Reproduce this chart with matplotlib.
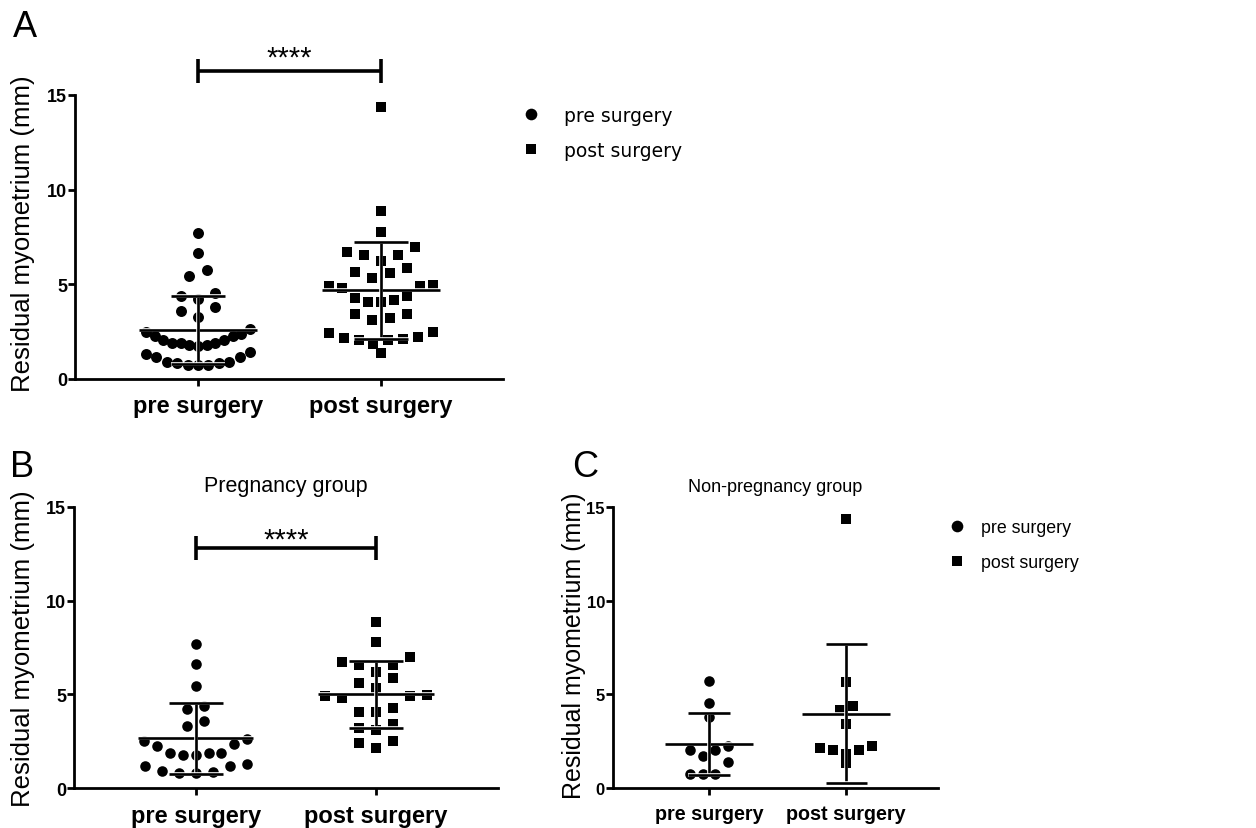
import numpy as np
import matplotlib
matplotlib.use('Agg')
import matplotlib.pyplot as plt
from matplotlib import font_manager
from matplotlib.lines import Line2D
import matplotlib.patheffects as pe

# ---------------- data ----------------
categories = ['pre surgery', 'post surgery']
preg_pre = [7.69, 6.63, 5.44, 4.37, 4.23, 3.30, 3.61, 2.50, 2.63, 2.27, 2.36,
            1.88, 1.79, 1.79, 1.88, 1.88, 1.30, 1.17, 1.17, 0.89, 0.82, 0.82, 0.91]
preg_post = [8.88, 7.78, 6.98, 6.57, 6.57, 6.71, 6.22, 5.88, 5.61, 5.33, 4.90,
             4.99, 4.80, 4.90, 4.28, 4.09, 4.09, 3.43, 3.21, 3.13, 2.50, 2.42, 2.13]
nonpreg_pre = [5.74, 4.53, 3.82, 2.27, 2.04, 1.74, 2.04, 1.42, 0.76, 0.76, 0.76]
nonpreg_post = [14.35, 5.65, 4.19, 4.37, 3.43, 2.17, 2.06, 2.24, 2.06, 1.83, 1.35]
all_pre = preg_pre + nonpreg_pre
all_post = preg_post + nonpreg_post

panel_letters = ['A', 'B', 'C']
titles = ['', 'Pregnancy group', 'Non-pregnancy group']
ylabel = 'Residual myometrium (mm)'
yticks = [0, 5, 10, 15]
sig_label = '****'

# ---------------- fonts ----------------
def has_font(name):
    try:
        font_manager.findfont(font_manager.FontProperties(family=name),
                              fallback_to_default=False)
        return True
    except Exception:
        return False

REG = ['Liberation Sans', 'DejaVu Sans']
plt.rcParams['font.family'] = REG
if has_font('Liberation Sans Narrow'):
    NARROW = ['Liberation Sans Narrow', 'Liberation Sans', 'DejaVu Sans']
    sizes_c = dict(ytick=13, xtick=17, title=15.5, legend=14.5)
else:
    NARROW = REG
    sizes_c = dict(ytick=12, xtick=14.2, title=13, legend=12.8)
sizes_ab = dict(ytick=13, xtick=17, title=15.5)

# ---------------- helpers ----------------
def swarm_offsets(values, origin=0.45, binw=1.15, step=0.094, maxw=0.57):
    v = np.asarray(values, dtype=float)
    off = np.zeros(len(v))
    bins = np.floor((v - origin) / binw).astype(int)
    for b in np.unique(bins):
        idx = np.where(bins == b)[0]
        idx = idx[np.argsort(v[idx], kind='stable')]
        n = len(idx)
        sp = step if n < 2 else min(step, maxw / (n - 1))
        if n % 2:
            slots = [0] + [s for k in range(1, n // 2 + 1) for s in (-k, k)]
        else:
            slots = [s for k in range(n // 2) for s in (-(k + 0.5), k + 0.5)]
        for i, s in zip(idx, slots):
            off[i] = s * sp
    return off

W, H = 1256, 829
fig = plt.figure(figsize=(W / 100, H / 100), dpi=100)

def px_axes(l, r, t, b):
    return fig.add_axes([l / W, 1 - b / H, (r - l) / W, (b - t) / H])

axA = px_axes(75, 503, 96, 380)
axB = px_axes(74, 498, 507.7, 789.3)
axC = px_axes(613, 938, 507.7, 789.3)

white_edge = [pe.Stroke(linewidth=2.6, foreground='white'), pe.Normal()]

def draw_panel(ax, pre, post, xlim, ms_o, ms_s, fam, sz, title='',
               ylab_x=-0.098, ylab_y=0.5, ylab_size=18.5):
    for i, (vals, mk, ms) in enumerate([(pre, 'o', ms_o), (post, 's', ms_s)]):
        x = i + swarm_offsets(vals)
        ax.plot(x, vals, linestyle='none', marker=mk, ms=ms, color='black',
                mec='black', mew=0, zorder=3, clip_on=False)
        m = np.mean(vals)
        sd = np.std(vals, ddof=1)
        kw = dict(color='black', lw=1.9, zorder=4, clip_on=False,
                  path_effects=white_edge, solid_capstyle='butt')
        ax.plot([i - 0.32, i + 0.32], [m, m], **kw)
        ax.plot([i, i], [m - sd, m + sd], **kw)
        ax.plot([i - 0.15, i + 0.15], [m + sd, m + sd], **kw)
        ax.plot([i - 0.15, i + 0.15], [m - sd, m - sd], **kw)
    ax.set_xlim(*xlim)
    ax.set_ylim(0, 15)
    for s in ['top', 'right']:
        ax.spines[s].set_visible(False)
    for s in ['left', 'bottom']:
        ax.spines[s].set_linewidth(2.0)
    ax.set_yticks(yticks, labels=[str(t) for t in yticks], fontsize=sz['ytick'],
                  fontweight='bold', family=fam)
    ax.set_xticks([0, 1], labels=categories, fontsize=sz['xtick'],
                  fontweight='bold', family=fam)
    ax.tick_params(axis='y', length=5, width=2, pad=0.8)
    ax.tick_params(axis='x', length=5, width=2, pad=6)
    ax.set_ylabel(ylabel, fontsize=ylab_size)
    ax.yaxis.set_label_coords(ylab_x, ylab_y)
    if title:
        ax.set_title(title, fontsize=sz['title'], pad=11, family=fam)

draw_panel(axA, all_pre, all_post, (-0.672, 1.667), 7.9, 7.9, REG, sizes_ab,
           ylab_x=-0.094, ylab_y=0.516)
draw_panel(axB, preg_pre, preg_post, (-0.675, 1.677), 7.6, 7.9, REG, sizes_ab,
           title=titles[1], ylab_x=-0.093)
draw_panel(axC, nonpreg_pre, nonpreg_post, (-0.70, 1.67), 7.6, 7.6, NARROW,
           sizes_c, title=titles[2], ylab_x=-0.083, ylab_y=0.51, ylab_size=18)

# significance bars
def sig_bar(ax, y, cap, text_dy):
    kw = dict(color='black', lw=2.6, clip_on=False, solid_capstyle='butt')
    ax.plot([0, 1], [y, y], **kw)
    ax.plot([0, 0], [y - cap, y + cap], **kw)
    ax.plot([1, 1], [y - cap, y + cap], **kw)
    ax.text(0.5, y + text_dy, sig_label, ha='center', va='baseline',
            fontsize=21, clip_on=False)

sig_bar(axA, 16.27, 0.62, 0.28)
sig_bar(axB, 12.8, 0.66, 0.0)

# legends
handles = [Line2D([], [], linestyle='none', marker='o', ms=8.4, color='black', mew=0),
           Line2D([], [], linestyle='none', marker='s', ms=7.4, color='black', mew=0)]
fig.legend(handles, categories, loc='upper left',
           bbox_to_anchor=(521.3 / W, 1 - 106.5 / H), frameon=False,
           borderpad=0, borderaxespad=0, handlelength=1.0, handletextpad=1.26,
           labelspacing=0.86, prop=dict(family=['DejaVu Sans'], size=13.5))
fig.legend(handles, categories, loc='upper left',
           bbox_to_anchor=(948 / W, 1 - 520 / H), frameon=False,
           borderpad=0, borderaxespad=0, handlelength=1.0, handletextpad=0.85,
           labelspacing=1.0, prop=dict(family=NARROW, size=sizes_c['legend']))

# panel letters
fig.text(13 / W, 1 - 10 / H, panel_letters[0], fontsize=26, va='top', ha='left')
fig.text(10 / W, 1 - 450 / H, panel_letters[1], fontsize=26, va='top', ha='left')
fig.text(572 / W, 1 - 450 / H, panel_letters[2], fontsize=26, va='top', ha='left',
         family=NARROW)

fig.savefig('out.png', dpi=100)
